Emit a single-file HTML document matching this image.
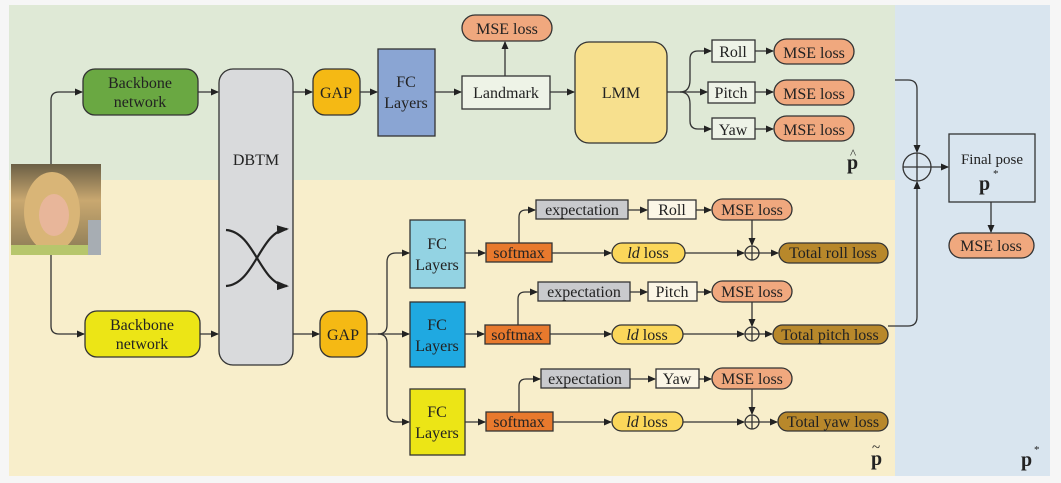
<!DOCTYPE html>
<html><head><meta charset="utf-8"><style>
html,body{margin:0;padding:0;background:#f6f6f6;}
svg{display:block;}
text{font-family:"Liberation Serif",serif;fill:#222;}
</style></head><body>
<svg width="1061" height="483" viewBox="0 0 1061 483" xmlns="http://www.w3.org/2000/svg">
<defs>
<marker id="a" markerWidth="8" markerHeight="8" refX="7" refY="4" orient="auto" markerUnits="userSpaceOnUse">
<path d="M0,0.5 L8,4 L0,7.5 z" fill="#222"/></marker>
<marker id="b" markerWidth="12" markerHeight="12" refX="10" refY="6" orient="auto" markerUnits="userSpaceOnUse">
<path d="M0,1.5 L12,6 L0,10.5 z" fill="#222"/></marker>
<linearGradient id="ph" x1="0" y1="0" x2="0" y2="1">
<stop offset="0" stop-color="#6b5f45"/><stop offset="0.4" stop-color="#c9a870"/><stop offset="1" stop-color="#8a7a55"/></linearGradient>
</defs>
<rect x="9" y="5" width="886" height="175" fill="#dfe9d6"/>
<rect x="9" y="180" width="886" height="296" fill="#f8eecb"/>
<rect x="895" y="5" width="155" height="471" fill="#d9e5ef"/>

<g stroke="#333" stroke-width="1.3" fill="none">
<path d="M51,164 V100 Q51,92 59,92 H82" marker-end="url(#a)"/>
<path d="M51,255 V326 Q51,334 59,334 H84" marker-end="url(#a)"/>
<path d="M198,92 H218" marker-end="url(#a)"/>
<path d="M200,334 H218" marker-end="url(#a)"/>
<path d="M293,92 H312" marker-end="url(#a)"/>
<path d="M293,334 H319" marker-end="url(#a)"/>
<path d="M360,92 H377" marker-end="url(#a)"/>
<path d="M435,92 H461" marker-end="url(#a)"/>
<path d="M505,76 V42" marker-end="url(#a)"/>
<path d="M550,92 H574" marker-end="url(#a)"/>
<path d="M667,92 H707" marker-end="url(#a)"/>
<path d="M680,92 Q690,92 690,80 V59 Q690,51 698,51 H711" marker-end="url(#a)"/>
<path d="M680,92 Q690,92 690,104 V121 Q690,129 698,129 H711" marker-end="url(#a)"/>
<path d="M755,51 H773" marker-end="url(#a)"/>
<path d="M755,92 H773" marker-end="url(#a)"/>
<path d="M755,129 H773" marker-end="url(#a)"/>
<path d="M895,80 H908 Q917,80 917,89 V152" marker-end="url(#a)"/>
<path d="M888,326 H908 Q917,326 917,317 V182" marker-end="url(#a)"/>
<circle cx="917" cy="167" r="14"/>
<path d="M903,167 H931 M917,153 V181"/>
<path d="M931,167 H948" marker-end="url(#a)"/>
<path d="M991,202 V232" marker-end="url(#a)"/>
<path d="M367,334 H409" marker-end="url(#a)"/>
<path d="M378,334 Q387,334 387,325 V262 Q387,253 396,253 H409" marker-end="url(#a)"/>
<path d="M378,334 Q387,334 387,343 V413 Q387,422 396,422 H409" marker-end="url(#a)"/>
<path d="M465,253 H485" marker-end="url(#a)"/>
<path d="M465,334 H484" marker-end="url(#a)"/>
<path d="M465,422 H485" marker-end="url(#a)"/>
<path d="M519,243 V217 Q519,210 526,210 H535" marker-end="url(#a)"/>
<path d="M518,325 V299 Q518,292 525,292 H537" marker-end="url(#a)"/>
<path d="M519,412 V386 Q519,379 526,379 H540" marker-end="url(#a)"/>
<path d="M552,253 H611" marker-end="url(#a)"/>
<path d="M550,334 H611" marker-end="url(#a)"/>
<path d="M553,422 H611" marker-end="url(#a)"/>
<path d="M628,210 H647" marker-end="url(#a)"/>
<path d="M630,292 H647" marker-end="url(#a)"/>
<path d="M630,379 H655" marker-end="url(#a)"/>
<path d="M696,210 H711" marker-end="url(#a)"/>
<path d="M697,292 H711" marker-end="url(#a)"/>
<path d="M699,379 H711" marker-end="url(#a)"/>
<path d="M685,253 H744" marker-end="url(#a)"/>
<path d="M683,334 H744" marker-end="url(#a)"/>
<path d="M683,422 H744" marker-end="url(#a)"/>
<path d="M752,220 V245" marker-end="url(#a)"/>
<path d="M752,302 V326" marker-end="url(#a)"/>
<path d="M752,389 V414" marker-end="url(#a)"/>
<circle cx="752" cy="253" r="7"/><path d="M745,253 H759 M752,246 V260"/>
<circle cx="752" cy="334" r="7"/><path d="M745,334 H759 M752,327 V341"/>
<circle cx="752" cy="422" r="7"/><path d="M745,422 H759 M752,415 V429"/>
<path d="M759,253 H778" marker-end="url(#a)"/>
<path d="M759,334 H772" marker-end="url(#a)"/>
<path d="M759,422 H777" marker-end="url(#a)"/>
</g>

<rect x="11" y="164" width="90" height="91" fill="url(#ph)"/>
<ellipse cx="52" cy="212" rx="28" ry="40" fill="#d9b577"/>
<ellipse cx="54" cy="215" rx="15" ry="21" fill="#e8b69a"/>
<rect x="11" y="245" width="90" height="10" fill="#b7c66c"/>
<rect x="88" y="220" width="13" height="35" fill="#a7adb3"/>

<g stroke="#333" stroke-width="1.3">
<rect x="83" y="69" width="115" height="46" rx="12" fill="#6aa842"/>
<rect x="85" y="311" width="115" height="46" rx="12" fill="#ece516"/>
<rect x="219" y="69" width="74" height="296" rx="14" fill="#d9dadc"/>
<rect x="313" y="69" width="47" height="46" rx="12" fill="#f5b914"/>
<rect x="320" y="311" width="47" height="46" rx="12" fill="#f5b914"/>
<rect x="378" y="49" width="57" height="87" fill="#8aa5d3"/>
<rect x="462" y="76" width="88" height="33" fill="#eef3e7"/>
<rect x="462" y="15" width="90" height="26" rx="13" fill="#f0a87e"/>
<rect x="575" y="42" width="92" height="101" rx="14" fill="#f7e08e"/>
<rect x="712" y="40" width="43" height="22" fill="#eef3e7"/>
<rect x="708" y="82" width="47" height="21" fill="#eef3e7"/>
<rect x="712" y="118" width="43" height="21" fill="#eef3e7"/>
<rect x="774" y="39" width="80" height="25" rx="12.5" fill="#f0a87e"/>
<rect x="774" y="80" width="80" height="25" rx="12.5" fill="#f0a87e"/>
<rect x="774" y="116" width="80" height="25" rx="12.5" fill="#f0a87e"/>
<rect x="949" y="134" width="86" height="68" fill="#d9e5ef"/>
<rect x="949" y="233" width="85" height="25" rx="12.5" fill="#f0a87e"/>
<rect x="410" y="220" width="55" height="68" fill="#93d3e3"/>
<rect x="410" y="302" width="55" height="65" fill="#1fa9e1"/>
<rect x="410" y="389" width="55" height="66" fill="#ece516"/>
<rect x="486" y="243" width="66" height="19" fill="#e8792d"/>
<rect x="485" y="325" width="65" height="19" fill="#e8792d"/>
<rect x="486" y="412" width="67" height="19" fill="#e8792d"/>
<rect x="536" y="200" width="92" height="19" fill="#c9cacd"/>
<rect x="538" y="282" width="92" height="19" fill="#c9cacd"/>
<rect x="541" y="369" width="89" height="19" fill="#c9cacd"/>
<rect x="648" y="200" width="48" height="19" fill="#fbf6e6"/>
<rect x="648" y="282" width="49" height="19" fill="#fbf6e6"/>
<rect x="656" y="369" width="43" height="19" fill="#fbf6e6"/>
<rect x="712" y="199" width="80" height="21" rx="10.5" fill="#f0a87e"/>
<rect x="712" y="281" width="80" height="21" rx="10.5" fill="#f0a87e"/>
<rect x="712" y="368" width="80" height="21" rx="10.5" fill="#f0a87e"/>
<rect x="612" y="243" width="73" height="20" rx="10" fill="#fbd75a"/>
<rect x="612" y="325" width="71" height="19" rx="9.5" fill="#fbd75a"/>
<rect x="612" y="412" width="71" height="19" rx="9.5" fill="#fbd75a"/>
<rect x="779" y="243" width="109" height="20" rx="10" fill="#b8882b"/>
<rect x="773" y="325" width="115" height="19" rx="9.5" fill="#b8882b"/>
<rect x="778" y="412" width="110" height="19" rx="9.5" fill="#b8882b"/>
</g>

<g stroke="#222" stroke-width="2.2" fill="none">
<path d="M226,230 C255,232 260,285 287,286" marker-end="url(#b)"/>
<path d="M226,286 C255,284 260,231 287,229" marker-end="url(#b)"/>
</g>

<g font-size="16" text-anchor="middle">
<text x="140" y="88">Backbone</text><text x="140" y="107">network</text>
<text x="142" y="330">Backbone</text><text x="142" y="349">network</text>
<text x="256" y="165">DBTM</text>
<text x="336" y="98">GAP</text>
<text x="343" y="340">GAP</text>
<text x="406" y="87">FC</text><text x="406" y="108">Layers</text>
<text x="506" y="98">Landmark</text>
<text x="507" y="34">MSE loss</text>
<text x="621" y="98">LMM</text>
<text x="733" y="57">Roll</text>
<text x="731" y="98">Pitch</text>
<text x="733" y="135">Yaw</text>
<text x="814" y="58">MSE loss</text>
<text x="814" y="99">MSE loss</text>
<text x="814" y="135">MSE loss</text>
<text x="992" y="164" font-size="15">Final pose</text>
<text x="991" y="251">MSE loss</text>
<text x="437" y="249">FC</text><text x="437" y="270">Layers</text>
<text x="437" y="330">FC</text><text x="437" y="351">Layers</text>
<text x="437" y="417">FC</text><text x="437" y="438">Layers</text>
<text x="519" y="258">softmax</text>
<text x="517" y="340">softmax</text>
<text x="519" y="427">softmax</text>
<text x="582" y="215">expectation</text>
<text x="584" y="297">expectation</text>
<text x="585" y="384">expectation</text>
<text x="672" y="215">Roll</text>
<text x="672" y="297">Pitch</text>
<text x="677" y="384">Yaw</text>
<text x="752" y="215">MSE loss</text>
<text x="752" y="297">MSE loss</text>
<text x="752" y="384">MSE loss</text>
<text x="648" y="258"><tspan font-style="italic">ld</tspan> loss</text>
<text x="647" y="340"><tspan font-style="italic">ld</tspan> loss</text>
<text x="647" y="427"><tspan font-style="italic">ld</tspan> loss</text>
<text x="833" y="258">Total roll loss</text>
<text x="830" y="340">Total pitch loss</text>
<text x="833" y="427">Total yaw loss</text>
</g>
<g font-size="20" font-weight="bold">
<text x="847" y="169">p</text><text x="850" y="158" font-size="13" font-weight="normal">^</text>
<text x="871" y="465">p</text><text x="872" y="452" font-size="15" font-weight="normal">~</text>
<text x="1021" y="466">p</text><text x="1034" y="453" font-size="11" font-weight="normal">*</text>
<text x="979" y="190">p</text><text x="993" y="177" font-size="11" font-weight="normal">*</text>
</g>
</svg>
</body></html>
